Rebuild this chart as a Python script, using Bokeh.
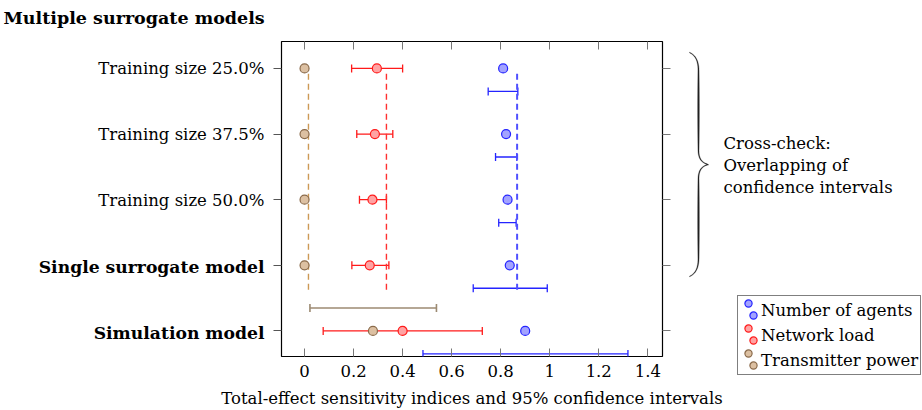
import numpy as np
from bokeh.plotting import figure
from bokeh.models import (Range1d, LinearAxis, FixedTicker, NumeralTickFormatter, CustomJSTickFormatter,
                          Whisker, TeeHead, ColumnDataSource, Legend, LegendItem)
from bokeh.core.properties import value
from bokeh.embed import file_html
from bokeh.resources import INLINE

# ---------------- data ----------------
categories = ["Training size 25.0%", "Training size 37.5%", "Training size 50.0%",
              "Single surrogate model", "Simulation model"]
category_style = ["normal", "normal", "normal", "bold", "bold"]
rows = [4, 3, 2, 1, 0]

agents_si = [0.810, 0.822, 0.828, 0.837, 0.900]
agents_lo = [0.749, 0.779, 0.792, 0.688, 0.483]
agents_hi = [0.870, 0.866, 0.863, 0.990, 1.319]

load_si = [0.295, 0.287, 0.277, 0.266, 0.400]
load_lo = [0.192, 0.213, 0.224, 0.193, 0.076]
load_hi = [0.400, 0.360, 0.334, 0.344, 0.725]

power_si = [0.0, 0.0, 0.0, 0.0, 0.279]
power_ci_rows = [0]
power_ci_lo = [0.022]
power_ci_hi = [0.538]

cross_check_x = [0.867, 0.334, 0.016]   # agents, load, power
series_names = ["Number of agents", "Network load", "Transmitter power"]
x_ticks = [0, 0.2, 0.4, 0.6, 0.8, 1.0, 1.2, 1.4]
group_title = "Multiple surrogate models"
brace_text = ["Cross-check:", "Overlapping of", "confidence intervals"]

# ---------------- styling / layout ----------------
FONT = "DejaVu Serif"
FS = "16.5px"
W, H = 922, 410
FL, FR, FT, FB = 281, 662, 41, 358
X0, X1 = -0.094, 1.46
Y0, Y1 = -0.39, 4.41
CI_OFF = 0.35

BLUE, BLUE_F = "#2424ff", "#a3a3ff"
RED, RED_F = "#ff1a1a", "#ffa3a3"
BROWN, BROWN_F = "#8a6a4a", "#dcc0a2"
SERIES_STYLE = [(BLUE, BLUE_F), (RED, RED_F), (BROWN, BROWN_F)]

# ================= main plot =================
p = figure(width=W, height=H, x_range=Range1d(X0, X1), y_range=Range1d(Y0, Y1),
           output_backend="svg", toolbar_location=None, title=None,
           min_border_left=FL, min_border_right=W - FR, min_border_top=FT, min_border_bottom=H - FB)
p.grid.visible = False
p.outline_line_color = "black"
p.outline_line_width = 1.2
p.background_fill_color = "white"
p.border_fill_color = "white"

xa = p.xaxis[0]
xa.ticker = FixedTicker(ticks=x_ticks, minor_ticks=[])
xa.formatter = NumeralTickFormatter(format="0.[0]")
xa.major_tick_in = 8
xa.major_tick_out = 0
xa.minor_tick_line_color = None
xa.major_tick_line_color = "#777777"
xa.axis_line_color = None
xa.major_label_text_font = FONT
xa.major_label_text_font_size = FS
xa.major_label_text_color = "black"
xa.major_label_standoff = 8
xa.axis_label = "Total-effect sensitivity indices and 95% confidence intervals"
xa.axis_label_text_font = FONT
xa.axis_label_text_font_size = FS
xa.axis_label_text_font_style = "normal"
xa.axis_label_text_color = "black"
xa.axis_label_standoff = 9

xt = LinearAxis(ticker=FixedTicker(ticks=x_ticks, minor_ticks=[]),
                formatter=CustomJSTickFormatter(code="return ''"),
                major_tick_in=8, major_tick_out=0, minor_tick_line_color=None,
                major_tick_line_color="#777777", axis_line_color=None)
p.add_layout(xt, "above")

ya = p.yaxis[0]
ya.ticker = FixedTicker(ticks=rows, minor_ticks=[])
ya.formatter = CustomJSTickFormatter(code="return ''")
ya.major_tick_in = 0
ya.major_tick_out = 8
ya.minor_tick_line_color = None
ya.major_tick_line_color = "#555555"
ya.axis_line_color = None

yr = LinearAxis(ticker=FixedTicker(ticks=rows, minor_ticks=[]),
                formatter=CustomJSTickFormatter(code="return ''"),
                major_tick_in=0, major_tick_out=8, minor_tick_line_color=None,
                major_tick_line_color="#777777", axis_line_color=None)
p.add_layout(yr, "right")

# cross-check dashed lines
p.segment(x0=cross_check_x, y0=[3.92] * 3, x1=cross_check_x, y1=[0.6] * 3,
          line_color=["#5050ff", "#ff3030", "#cc9955"], line_width=[2.0, 1.4, 1.4],
          line_dash="6 4")


def whisker(ys, lo, hi, color, lw=1.3):
    src = ColumnDataSource(dict(y=ys, lo=lo, hi=hi))
    w = Whisker(source=src, base="y", lower="lo", upper="hi", dimension="width",
                line_color=color, line_width=lw,
                upper_head=TeeHead(size=8, line_color=color, line_width=lw),
                lower_head=TeeHead(size=8, line_color=color, line_width=lw))
    p.add_layout(w)


whisker([r - CI_OFF for r in rows], agents_lo, agents_hi, BLUE)
whisker(rows, load_lo, load_hi, RED)
whisker([r + CI_OFF for r in power_ci_rows], power_ci_lo, power_ci_hi, "#9c8a72", lw=1.6)

for xs, (lc, fc) in zip([agents_si, load_si, power_si], SERIES_STYLE):
    p.scatter(x=xs, y=rows, size=9, marker="circle", fill_color=fc, line_color=lc, line_width=1.2)

# ================= overlay for texts outside the frame =================
ppx = (FR - FL) / (X1 - X0)
ppy = (FB - FT) / (Y1 - Y0)
DX0, DX1 = X0 - FL / ppx, X1 + (W - FR) / ppx
DY0, DY1 = Y0 - (H - FB) / ppy, Y1 + FT / ppy


def sx(px):
    return DX0 + px / ppx


def sy(py):
    return DY1 - py / ppy


d = figure(width=W, height=H, x_range=Range1d(DX0, DX1), y_range=Range1d(DY0, DY1),
           output_backend="svg", toolbar_location=None, title=None,
           x_axis_location=None, y_axis_location=None, min_border=0)
d.grid.visible = False
d.outline_line_color = None
d.background_fill_color = None
d.border_fill_color = None
d.styles = {"position": "absolute", "top": "0px", "left": "0px"}

cat_src = ColumnDataSource(dict(y=rows, text=categories, style=category_style,
                                size=["16.5px", "16.5px", "16.5px", "17.2px", "17.2px"]))
d.text(x=sx(264), y="y", text="text", source=cat_src, text_align="right", text_baseline="middle",
       text_font=value(FONT), text_font_size="size", text_font_style="style", text_color="black")

d.text(x=[sx(3)], y=[sy(17)], text=[group_title], text_align="left", text_baseline="middle",
       text_font=value(FONT), text_font_size="17.5px", text_font_style="bold", text_color="black")

d.text(x=[sx(723)] * 3, y=[sy(v) for v in (143, 165, 187)], text=brace_text, text_align="left",
       text_baseline="middle", text_font=value(FONT), text_font_size=FS, text_color="black")


# brace
def quad(p0, c, p1, n=14):
    t = np.linspace(0, 1, n)
    x = (1 - t) ** 2 * p0[0] + 2 * (1 - t) * t * c[0] + t ** 2 * p1[0]
    y = (1 - t) ** 2 * p0[1] + 2 * (1 - t) * t * c[1] + t ** 2 * p1[1]
    return list(zip(x, y))


def line(p0, p1, n=20):
    t = np.linspace(0, 1, n)
    return list(zip(p0[0] + (p1[0] - p0[0]) * t, p0[1] + (p1[1] - p0[1]) * t))


top_half = (quad((689, 52), (698, 56), (698, 70)) + line((698, 70), (698, 150))[1:]
            + quad((698, 150), (698, 162), (708, 164))[1:])
bot_half = (quad((708, 164), (698, 166), (698, 178)) + line((698, 178), (698, 258))[1:]
            + quad((698, 258), (698, 272), (689, 276))[1:])


def outline(pts):
    pts = np.array(pts)
    dd = np.sqrt((np.diff(pts, axis=0) ** 2).sum(axis=1))
    s = np.concatenate([[0], np.cumsum(dd)])
    u = s / s[-1]
    wdt = 0.5 + 1.2 * np.sin(np.pi * u)
    tg = np.gradient(pts, axis=0)
    tg /= np.linalg.norm(tg, axis=1)[:, None]
    nrm = np.stack([-tg[:, 1], tg[:, 0]], axis=1)
    return pts + nrm * (wdt / 2)[:, None], pts - nrm * (wdt / 2)[:, None]


a1, b1 = outline(top_half)
a2, b2 = outline(bot_half)
poly = np.vstack([a1, a2[1:], b2[::-1], b1[::-1][1:]])
d.patch(x=[sx(v) for v in poly[:, 0]], y=[sy(v) for v in poly[:, 1]],
        fill_color="#222222", line_color="#222222", line_width=0.3)

# legend (proxy renderers that only feed the legend; their single point is NaN, so never drawn)
proxies = [d.scatter(x=np.array([np.nan]), y=np.array([np.nan]), size=9, marker="circle",
                     fill_color=fc, line_color=lc, line_width=1.2)
           for lc, fc in SERIES_STYLE]

leg_a = Legend(items=[LegendItem(label=n, renderers=[r]) for n, r in zip(series_names, proxies)],
               location=(737, H - 375), glyph_width=0, glyph_height=24, spacing=1, padding=2,
               label_standoff=21, label_height=0, label_text_font=FONT, label_text_font_size=FS,
               label_text_color="black", border_line_color="black", border_line_width=1,
               background_fill_color="white", background_fill_alpha=1.0, margin=0)
d.add_layout(leg_a, "center")
for left, bottom in [(739, 362), (744, 374)]:
    lg = Legend(items=[LegendItem(label=" ", renderers=[r]) for r in proxies],
                location=(left, H - bottom), glyph_width=18, glyph_height=18, spacing=7, padding=0,
                label_standoff=0, label_width=0, label_height=0, label_text_font_size="1px",
                border_line_alpha=0, background_fill_alpha=0, margin=0)
    d.add_layout(lg, "center")

open("out.html", "w").write(file_html([p, d], INLINE))
